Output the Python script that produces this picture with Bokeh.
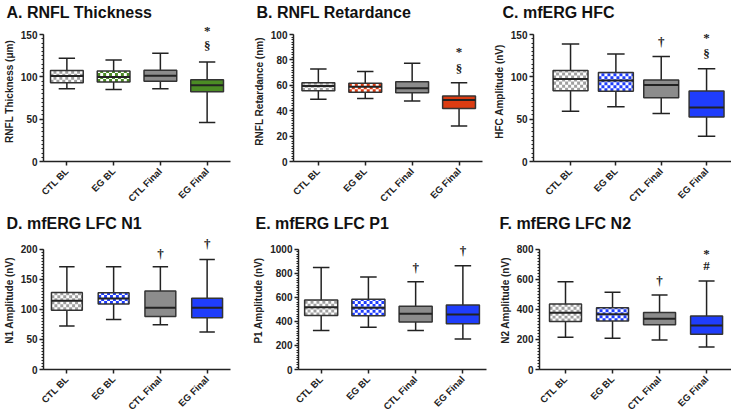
from math import pi, ceil
from bokeh.plotting import figure
from bokeh.layouts import column, row
from bokeh.models import (Range1d, FixedTicker, SingleIntervalTicker, ColumnDataSource,
                          LabelSet)
from bokeh.embed import file_html
from bokeh.resources import INLINE

categories = ["CTL BL", "EG BL", "CTL Final", "EG Final"]

# A. RNFL Thickness
a_low = [86, 85, 86, 46]
a_q1 = [93, 94, 95, 82.5]
a_med = [101, 100, 101.5, 90]
a_q3 = [107.5, 107, 108, 96.5]
a_high = [122, 120, 128, 117.5]
a_mark_cat = [3, 3]
a_mark_y = [155, 137]
a_mark_text = ["*", "§"]

# B. RNFL Retardance
b_low = [49, 49.7, 47.6, 28]
b_q1 = [55.8, 54.5, 54.2, 41.8]
b_med = [59.5, 59, 57.7, 48.4]
b_q3 = [62.1, 61.7, 62.9, 51.6]
b_high = [72.8, 70.9, 77.5, 62.1]
b_mark_cat = [3, 3]
b_mark_y = [86.7, 73.6]
b_mark_text = ["*", "§"]

# C. mfERG HFC
c_low = [59.5, 64.7, 56.8, 29.8]
c_q1 = [83.7, 83, 75.4, 52.7]
c_med = [97.6, 95.6, 90.5, 63.9]
c_q3 = [107.5, 105.1, 96.4, 83.3]
c_high = [138.9, 127, 124.2, 109.5]
c_mark_cat = [2, 3, 3]
c_mark_y = [142, 147, 128]
c_mark_text = ["†", "*", "§"]

# D. mfERG LFC N1
d_low = [72.4, 83, 74.5, 62.5]
d_q1 = [98.7, 109, 88.2, 86]
d_med = [114.4, 118, 102.8, 102.8]
d_q3 = [128, 127.6, 130.7, 118.6]
d_high = [171, 171, 171, 183]
d_mark_cat = [2, 3]
d_mark_y = [193, 209]
d_mark_text = ["†", "†"]

# E. mfERG LFC P1
e_low = [325, 352, 325, 254]
e_q1 = [449, 447, 394, 381]
e_med = [518, 513, 463, 458]
e_q3 = [577, 585, 526, 537]
e_high = [849, 770, 730, 863]
e_mark_cat = [2, 3]
e_mark_y = [849, 986]
e_mark_text = ["†", "†"]

# F. mfERG LFC N2
f_low = [214, 208, 197, 150]
f_q1 = [319, 322, 297, 235]
f_med = [377, 368, 337, 292]
f_q3 = [436, 411, 379, 356]
f_high = [584, 514, 495, 589]
f_mark_cat = [2, 3, 3]
f_mark_y = [590, 775, 690]
f_mark_text = ["†", "*", "#"]

FONT = "Liberation Sans"
GRAY_FILL = "#8c8c8c"
CHECK_GRAY = "#a0a0a0"
GREEN = "#4b8b24"
RED = "#dc3c12"
BLUE = "#1f3dfb"
EDGE = "#333333"
INK = "#222222"

# layout: row heights, frame/axis pixel extents
R1H, R2H = 212, 206
R1_TOP, R1_AXTOP, R1_BOT = 22, 35, 161      # frame top, axis top, frame bottom (px)
R2_TOP, R2_AXTOP, R2_BOT = 232, 250, 372


def checker_cells(xc, w, y0, y1, sx, sy, px=3.0):
    dx, dy = px / sx, px / sy
    L, R = xc - w / 2.0, xc + w / 2.0
    nx, ny = int(ceil((R - L) / dx)), int(ceil((y1 - y0) / dy))
    out = dict(left=[], right=[], bottom=[], top=[])
    for i in range(nx):
        for j in range(ny):
            if (i + j) % 2 == 0:
                l = L + i * dx
                b = y0 + j * dy
                out["left"].append(l)
                out["right"].append(min(l + dx, R))
                out["bottom"].append(b)
                out["top"].append(min(b + dy, y1))
    return out


def panel(title, ylabel, ymax, ystep, low, q1, med, q3, high, accent,
          mcat, my, mtext, width, height, left, right, bottom, xr, box_w,
          title_offset, rowgeo):
    ftop, axtop, fbot = rowgeo
    pad = (fbot - ftop) / float(fbot - axtop)
    p = figure(width=width, height=height, output_backend="svg", toolbar_location=None,
               x_range=Range1d(*xr), y_range=Range1d(0, ymax * pad),
               min_border_left=left, min_border_right=right,
               min_border_top=0, min_border_bottom=bottom)
    p.outline_line_color = None
    p.grid.visible = False
    p.title.text = title
    p.title.text_font = FONT
    p.title.text_font_size = "16px"
    p.title.text_font_style = "bold"
    p.title.text_color = "#111111"
    p.title.offset = title_offset
    p.title.standoff = ftop - 20 if ftop < 100 else ftop - 212 - 20

    xs = list(range(len(categories)))
    caps = box_w / 2.0
    p.segment(x0=xs, y0=low, x1=xs, y1=q1, line_color=INK, line_width=1.5)
    p.segment(x0=xs, y0=q3, x1=xs, y1=high, line_color=INK, line_width=1.5)
    p.segment(x0=[x - caps / 2 for x in xs], y0=low, x1=[x + caps / 2 for x in xs], y1=low,
              line_color=INK, line_width=1.5)
    p.segment(x0=[x - caps / 2 for x in xs], y0=high, x1=[x + caps / 2 for x in xs], y1=high,
              line_color=INK, line_width=1.5)

    fills = ["white", "white", GRAY_FILL, accent]
    p.vbar(x=xs, width=box_w, bottom=q1, top=q3, fill_color=fills, line_color=None)

    # checkered fill for the two baseline boxes
    frame_w = width - left - right
    sx = frame_w / float(xr[1] - xr[0])
    sy = (fbot - axtop) / float(ymax)
    for i, col in ((0, CHECK_GRAY), (1, accent)):
        cells = checker_cells(xs[i], box_w, q1[i], q3[i], sx, sy)
        p.quad(source=ColumnDataSource(cells), left="left", right="right",
               bottom="bottom", top="top", fill_color=col, line_color=None)

    p.vbar(x=xs, width=box_w, bottom=q1, top=q3, fill_alpha=0,
           line_color=EDGE, line_width=1.5)
    p.segment(x0=[x - box_w / 2 for x in xs], y0=med, x1=[x + box_w / 2 for x in xs], y1=med,
              line_color=INK, line_width=2)

    src = ColumnDataSource(dict(x=mcat, y=my, t=mtext))
    p.add_layout(LabelSet(x="x", y="y", text="t", source=src, text_align="center",
                          text_baseline="middle", text_font=FONT, text_font_size="13px",
                          text_font_style="bold", text_color=INK))

    xa = p.xaxis[0]
    xa.ticker = FixedTicker(ticks=xs)
    xa.major_label_overrides = {i: c for i, c in enumerate(categories)}
    xa.major_label_orientation = pi / 4
    xa.major_label_text_font = FONT
    xa.major_label_text_font_size = "9.5px"
    xa.major_label_text_font_style = "bold"
    xa.major_label_text_color = INK
    xa.major_tick_in = 0
    xa.major_tick_out = 4
    xa.minor_tick_line_color = None
    xa.axis_line_width = 1.5
    xa.axis_line_color = INK
    xa.major_tick_line_width = 1.5
    xa.major_tick_line_color = INK
    xa.major_label_standoff = 4

    ya = p.yaxis[0]
    ya.bounds = (0, ymax)
    ya.ticker = SingleIntervalTicker(interval=ystep, num_minor_ticks=10)
    ya.axis_label = ylabel
    ya.axis_label_text_font = FONT
    ya.axis_label_text_font_size = "10px"
    ya.axis_label_text_font_style = "bold"
    ya.axis_label_text_color = INK
    ya.axis_label_standoff = 3
    ya.major_label_text_font = FONT
    ya.major_label_text_font_size = "10px"
    ya.major_label_text_font_style = "bold"
    ya.major_label_text_color = INK
    ya.major_label_standoff = 2
    ya.major_tick_in = 0
    ya.major_tick_out = 4
    ya.minor_tick_in = 0
    ya.minor_tick_out = 2
    ya.axis_line_width = 1.5
    ya.axis_line_color = INK
    ya.major_tick_line_width = 1.5
    ya.major_tick_line_color = INK
    ya.minor_tick_line_color = INK
    return p


G1 = (R1_TOP, R1_AXTOP, R1_BOT)
G2 = (R2_TOP - R1H, R2_AXTOP - R1H, R2_BOT - R1H)
B1 = R1H - R1_BOT
B2 = R1H + R2H - R2_BOT

pa = panel("A. RNFL Thickness", "RNFL Thickness (μm)", 150, 50,
           a_low, a_q1, a_med, a_q3, a_high, GREEN, a_mark_cat, a_mark_y, a_mark_text,
           250, R1H, 40, 20, B1, (-0.5, 3.5), 0.7, -37, G1)
pb = panel("B. RNFL Retardance", "RNFL Retardance (nm)", 100, 20,
           b_low, b_q1, b_med, b_q3, b_high, RED, b_mark_cat, b_mark_y, b_mark_text,
           240, R1H, 42, 8, B1, (-0.53, 3.5), 0.7, -37, G1)
pc = panel("C. mfERG HFC", "HFC Amplitude (nV)", 150, 50,
           c_low, c_q1, c_med, c_q3, c_high, BLUE, c_mark_cat, c_mark_y, c_mark_text,
           241, R1H, 43, 0, B1, (-0.817, 3.55), 0.77, -31, G1)
pd_ = panel("D. mfERG LFC N1", "N1 Amplitude (nV)", 200, 50,
            d_low, d_q1, d_med, d_q3, d_high, BLUE, d_mark_cat, d_mark_y, d_mark_text,
            250, R2H, 40, 20, B2, (-0.5, 3.5), 0.66, -37, G2)
pe = panel("E. mfERG LFC P1", "P1 Amplitude (nV)", 1000, 200,
           e_low, e_q1, e_med, e_q3, e_high, BLUE, e_mark_cat, e_mark_y, e_mark_text,
           240, R2H, 45, 4, B2, (-0.48, 3.5), 0.7, -43, G2)
pf = panel("F. mfERG LFC N2", "N2 Amplitude (nV)", 800, 200,
           f_low, f_q1, f_med, f_q3, f_high, BLUE, f_mark_cat, f_mark_y, f_mark_text,
           241, R2H, 49, 0, B2, (-0.553, 3.53), 0.68, -40, G2)

layout = column(row(pa, pb, pc), row(pd_, pe, pf))
open("out.html", "w").write(file_html(layout, INLINE))
